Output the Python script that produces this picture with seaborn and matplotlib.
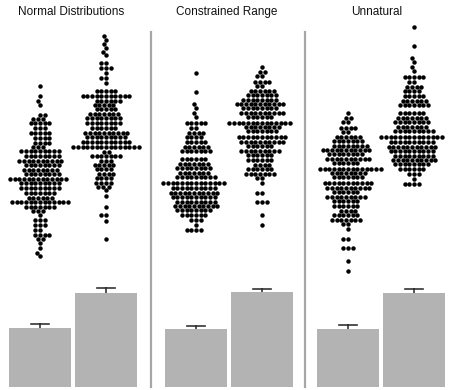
import numpy as np
import pandas as pd
import matplotlib
matplotlib.use("Agg")
import matplotlib.pyplot as plt
from matplotlib.lines import Line2D
import seaborn as sns

# ---- data (level = value, count = number of dots) ----
TITLES = ["Normal Distributions", "Constrained Range", "Unnatural"]
GROUPS = ["A", "B"]

NORMAL_A_LEVELS = [184, 174, 169, 165, 155, 151, 147, 142, 137, 132, 127, 123, 119, 114, 109, 105,
                   100, 96, 91, 87, 82, 77, 72, 68, 63, 59, 55, 50, 45, 40, 35, 31, 27, 22, 17, 14]
NORMAL_A_COUNTS = [1, 1, 1, 1, 2, 3, 5, 3, 5, 4, 4, 3, 9, 8, 10, 8,
                   8, 8, 13, 9, 9, 7, 6, 13, 7, 3, 1, 3, 3, 2, 4, 2, 1, 1, 1, 1]

NORMAL_B_LEVELS = [234, 230, 226, 222, 218, 215, 207, 202, 197, 192, 187, 179, 174, 169, 165, 161,
                   156, 152, 147, 142, 137, 133, 128, 123, 118, 114, 109, 105, 101, 96, 92, 87,
                   83, 80, 74, 63, 55, 49, 31]
NORMAL_B_COUNTS = [1, 1, 1, 1, 1, 1, 2, 3, 1, 2, 1, 5, 11, 6, 5, 5,
                   7, 8, 8, 6, 10, 9, 11, 15, 2, 7, 3, 5, 4, 4, 4, 4,
                   3, 1, 1, 1, 2, 1, 1]

CONSTR_A_LEVELS = [197, 178, 166, 162, 157, 153, 147, 142, 137, 133, 128, 123, 119, 111, 106,
                   102, 97, 93, 87, 82, 77, 73, 68, 64, 60, 55, 50, 45, 40]
CONSTR_A_COUNTS = [1, 1, 1, 1, 1, 1, 5, 2, 4, 4, 5, 6, 7, 6, 7,
                   8, 7, 9, 14, 10, 11, 10, 9, 10, 8, 6, 3, 1, 4]

CONSTR_B_LEVELS = [203, 198, 194, 188, 184, 179, 175, 170, 166, 162, 157, 153, 147, 143, 139,
                   133, 128, 124, 119, 115, 110, 105, 101, 96, 92, 87, 77, 68, 55, 45]
CONSTR_B_COUNTS = [1, 2, 2, 4, 2, 6, 7, 8, 11, 8, 10, 6, 14, 8, 7,
                   11, 10, 6, 9, 6, 6, 4, 6, 7, 2, 1, 2, 3, 1, 1]

UNNAT_A_LEVELS = [157, 152, 148, 142, 138, 133, 129, 124, 120, 116, 111, 107, 101, 97, 93,
                  87, 82, 78, 73, 69, 64, 59, 55, 50, 46, 41, 31, 22, 9, -1]
UNNAT_A_COUNTS = [1, 2, 2, 4, 2, 6, 7, 8, 11, 8, 10, 6, 14, 8, 7,
                  11, 10, 6, 9, 6, 6, 4, 6, 7, 2, 1, 2, 3, 1, 1]

UNNAT_B_LEVELS = [243, 224, 212, 208, 203, 199, 193, 188, 183, 179, 174, 169, 165, 157, 152,
                  148, 143, 139, 133, 128, 123, 119, 114, 110, 106, 101, 96, 91, 86]
UNNAT_B_COUNTS = [1, 1, 1, 1, 1, 1, 5, 2, 4, 4, 5, 6, 7, 6, 7,
                  8, 7, 9, 14, 10, 11, 10, 9, 10, 8, 6, 3, 1, 4]

PANELS = [
    [(NORMAL_A_LEVELS, NORMAL_A_COUNTS), (NORMAL_B_LEVELS, NORMAL_B_COUNTS)],
    [(CONSTR_A_LEVELS, CONSTR_A_COUNTS), (CONSTR_B_LEVELS, CONSTR_B_COUNTS)],
    [(UNNAT_A_LEVELS, UNNAT_A_COUNTS), (UNNAT_B_LEVELS, UNNAT_B_COUNTS)],
]

# ---- layout ----
W, H = 453, 390
PANEL_LEFT = [7, 163, 315]      # px
PANEL_W = 132
TITLE_X = [71, 227, 377]
SEP_X = [151, 305]
GROUP_POS = [0.0, 0.7]          # category positions on swarm axis

plt.rcParams["font.family"] = ["Liberation Sans", "DejaVu Sans"]
fig = plt.figure(figsize=(W / 100, H / 100), dpi=100)
fig.patch.set_facecolor("white")

for p, groups in enumerate(PANELS):
    L = PANEL_LEFT[p]
    ax_s = fig.add_axes([L / W, (H - 275) / H, PANEL_W / W, 250 / H])
    ax_b = fig.add_axes([L / W, 3 / H, PANEL_W / W, 102 / H])

    rows = []
    for g, (levels, counts) in enumerate(groups):
        vals = np.repeat(np.asarray(levels, float), counts)
        sns.swarmplot(x=np.full(len(vals), GROUP_POS[g]), y=vals, native_scale=True,
                      orient="x", color="black", size=3.2, linewidth=0,
                      clip_on=False, warn_thresh=1.0, ax=ax_s)
        rows.append(pd.DataFrame({"group": GROUPS[g], "value": vals}))
    ax_s.set_xlim(-0.35, 1.05)
    ax_s.set_ylim(-5, 245)
    ax_s.axis("off")

    df = pd.concat(rows, ignore_index=True)
    sns.barplot(data=df, x="group", y="value", order=GROUPS, color="#b3b3b3",
                saturation=1, errorbar=("se", 2), capsize=0.27, width=0.94,
                linewidth=0, err_kws={"color": "#333333", "linewidth": 1.2}, ax=ax_b)
    for ln in ax_b.lines:
        ln.set_zorder(0.5)
    ax_b.set_ylim(21, 149)
    ax_b.set_xlim(-0.5, 1.5)
    ax_b.axis("off")

    fig.text(TITLE_X[p] / W, 1 - 12 / H, TITLES[p], ha="center", va="center",
             fontsize=8.5, color="#111111")

for sx in SEP_X:
    fig.add_artist(Line2D([sx / W, sx / W], [3 / H, 1 - 32 / H], transform=fig.transFigure,
                          color="#a6a6a6", linewidth=1.6))

fig.savefig("out.png", dpi=100, facecolor="white")
